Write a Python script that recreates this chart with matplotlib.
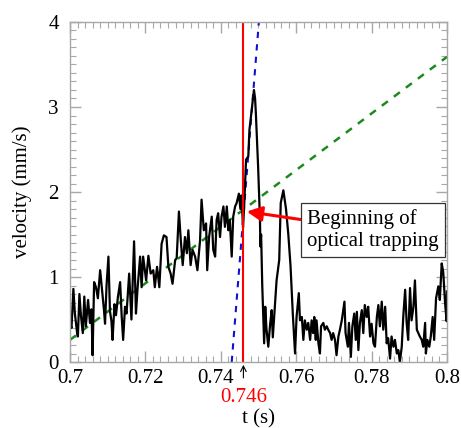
import matplotlib
matplotlib.use('Agg')
import matplotlib.pyplot as plt
from matplotlib.ticker import MultipleLocator
from matplotlib.transforms import ScaledTranslation

plt.rcParams['font.family'] = ['Liberation Serif', 'DejaVu Serif']

# measured velocity trace
t = [0.7000, 0.7004, 0.7009, 0.7013, 0.7019, 0.7021, 0.7025, 0.7029, 0.7034, 0.7038,
     0.7042, 0.7048, 0.7053, 0.7057, 0.7060, 0.7064, 0.7069, 0.7074, 0.7080, 0.7085,
     0.7090, 0.7093, 0.7097, 0.7102, 0.7106, 0.7110, 0.7113, 0.7118, 0.7122, 0.7127,
     0.7133, 0.7137, 0.7141, 0.7146, 0.7150, 0.7157, 0.7163, 0.7170, 0.7175, 0.7179,
     0.7186, 0.7190, 0.7194, 0.7202, 0.7208, 0.7214, 0.7221, 0.7225, 0.7231, 0.7237,
     0.7243, 0.7249, 0.7256, 0.7261, 0.7267, 0.7272, 0.7279, 0.7283, 0.7289, 0.7294,
     0.7299, 0.7305, 0.7310, 0.7314, 0.7320, 0.7325, 0.7332, 0.7338, 0.7345, 0.7349,
     0.7355, 0.7361, 0.7364, 0.7369, 0.7376, 0.7380, 0.7385, 0.7389, 0.7393, 0.7398,
     0.7402, 0.7407, 0.7411, 0.7416, 0.7420, 0.7424, 0.7429, 0.7433, 0.7438, 0.7442,
     0.7448, 0.7452, 0.7455, 0.7459, 0.7462, 0.7467, 0.7473, 0.7476, 0.7482, 0.7488,
     0.7491, 0.7493, 0.7499, 0.7502, 0.7504, 0.7505, 0.7507, 0.7510, 0.7515, 0.7518,
     0.7521, 0.7526, 0.7531, 0.7535, 0.7538, 0.7545, 0.7548, 0.7555, 0.7559, 0.7566,
     0.7573, 0.7579, 0.7585, 0.7591, 0.7597, 0.7601, 0.7607, 0.7610, 0.7615, 0.7619,
     0.7623, 0.7628, 0.7632, 0.7637, 0.7641, 0.7645, 0.7648, 0.7652, 0.7654, 0.7659,
     0.7663, 0.7666, 0.7672, 0.7676, 0.7681, 0.7685, 0.7690, 0.7694, 0.7698, 0.7703,
     0.7707, 0.7712, 0.7716, 0.7721, 0.7728, 0.7731, 0.7737, 0.7740, 0.7745, 0.7749,
     0.7754, 0.7758, 0.7761, 0.7765, 0.7769, 0.7774, 0.7778, 0.7782, 0.7787, 0.7791,
     0.7796, 0.7800, 0.7805, 0.7809, 0.7814, 0.7818, 0.7822, 0.7827, 0.7831, 0.7836,
     0.7840, 0.7844, 0.7849, 0.7853, 0.7858, 0.7862, 0.7867, 0.7871, 0.7875, 0.7880,
     0.7884, 0.7889, 0.7893, 0.7897, 0.7902, 0.7906, 0.7911, 0.7915, 0.7920, 0.7924,
     0.7928, 0.7933, 0.7937, 0.7942, 0.7944, 0.7948, 0.7953, 0.7957, 0.7962, 0.7966,
     0.7971, 0.7977, 0.7981, 0.7986, 0.7990, 0.7995, 0.7999, 0.8000]
v = [0.46, 0.40, 0.86, 0.57, 0.34, 0.30, 0.80, 0.55, 0.34, 0.77,
     0.42, 0.73, 0.46, 0.62, 0.08, 0.94, 0.88, 0.75, 1.08, 0.85,
     0.62, 0.45, 0.90, 1.24, 0.60, 0.48, 0.26, 0.68, 0.55, 0.76,
     0.94, 0.55, 0.26, 0.65, 0.57, 1.04, 0.50, 1.42, 0.57, 0.85,
     1.24, 0.88, 1.24, 0.96, 1.25, 1.04, 1.08, 0.88, 1.12, 0.88,
     1.39, 1.49, 1.47, 1.12, 1.04, 0.92, 1.20, 1.22, 1.77, 1.43,
     1.14, 1.47, 1.28, 1.55, 1.14, 1.32, 1.24, 1.08, 1.43, 1.91,
     1.55, 1.63, 1.08, 1.47, 1.71, 1.32, 1.24, 1.67, 1.75, 1.47,
     1.71, 1.83, 1.59, 1.83, 1.55, 1.67, 1.24, 1.71, 1.83, 1.87,
     1.98, 1.80, 1.96, 1.58, 1.83, 2.38, 2.42, 2.73, 2.96, 3.20,
     3.10, 2.93, 2.30, 1.90, 1.67, 1.36, 1.50, 0.90, 0.22, 0.65,
     0.40, 0.18, 0.45, 0.61, 0.29, 0.77, 0.96, 1.20, 1.87, 2.02,
     1.80, 1.51, 1.13, 0.57, 0.10, 0.53, 0.81, 0.49, 0.53, 0.26,
     0.49, 0.38, 0.46, 0.26, 0.49, 0.34, 0.53, 0.26, 0.49, 0.22,
     0.10, 0.42, 0.46, 0.38, 0.42, 0.38, 0.34, 0.26, 0.34, 0.26,
     0.08, 0.30, 0.38, 0.49, 0.71, 0.34, 0.18, 0.46, 0.06, 0.42,
     0.57, 0.26, 0.59, 0.14, 0.46, 0.61, 0.34, 0.67, 0.53, 0.65,
     0.30, 0.45, 0.22, 0.18, 0.53, 0.67, 0.42, 0.71, 0.38, 0.65,
     0.22, 0.28, 0.04, 0.30, 0.18, 0.26, 0.10, 0.14, 0.00, 0.18,
     0.53, 0.85, 0.46, 0.26, 0.87, 0.49, 0.65, 0.96, 0.38, 0.34,
     0.30, 0.26, 0.18, 0.46, 0.10, 0.26, 0.18, 0.30, 0.53, 0.26,
     0.75, 0.89, 0.73, 1.16, 1.06, 0.69, 0.48, 0.83]

# linear fits
slow_fit_t = [0.70, 0.80]
slow_fit_v = [0.26, 3.59]
fast_fit_t = [0.7429, 0.7501]
fast_fit_v = [0.0, 4.0]

x_ticks = [0.70, 0.72, 0.74, 0.76, 0.78, 0.80]
x_tick_labels = ['0.7', '0.72', '0.74', '0.76', '0.78', '0.8']
y_ticks = [0, 1, 2, 3, 4]

t_trap = 0.746
arrow_tip = (0.7469, 1.77)

fig = plt.figure(figsize=(4.61, 4.28), dpi=100)
ax = fig.add_axes([0.1518, 0.1542, 0.8178, 0.7944])

ax.plot(slow_fit_t, slow_fit_v, color='#1e8a1e', lw=1.8, ls=(0, (3, 3)))
ax.plot(fast_fit_t, fast_fit_v, color='#1010d0', lw=1.5, ls=(0, (3, 3)))
ax.plot(t, v, color='black', lw=1.6)
ax.axvline(t_trap, color='red', lw=1.5)

ax.set_xlim(0.7, 0.8)
ax.set_ylim(0, 4)
ax.set_xticks(x_ticks)
ax.set_xticklabels(x_tick_labels)
ax.xaxis.set_minor_locator(MultipleLocator(0.002))
ax.set_yticks(y_ticks)
ax.set_yticklabels([str(y) for y in y_ticks])
ax.yaxis.set_minor_locator(MultipleLocator(0.1))

for s in ax.spines.values():
    s.set_color('#a8a8a8')
    s.set_linewidth(1.0)
ax.tick_params(which='both', direction='in', top=True, right=True,
               color='#a8a8a8', labelsize=15)
ax.tick_params(which='major', length=8, width=1.0, pad=5)
ax.tick_params(which='minor', length=4, width=0.8)
ax.tick_params(axis='y', pad=8)

# nudge 0.74 away from the marker arrow
lab = ax.get_xticklabels()[2]
lab.set_transform(lab.get_transform() + ScaledTranslation(-5 / 100, 0, fig.dpi_scale_trans))

ax.set_xlabel('t (s)', fontsize=15)
ax.xaxis.set_label_coords(0.5, -0.14)
ax.set_ylabel('velocity (mm/s)', fontsize=15, labelpad=12)

ax.text(t_trap, -0.42, '0.746', color='red', fontsize=15, ha='center', va='center',
        clip_on=False)
ax.annotate('', xy=(t_trap, 0), xytext=(t_trap, -0.22),
            arrowprops=dict(arrowstyle='->', color='black', lw=0.8), annotation_clip=False)

ax.annotate('Beginning of\noptical trapping', xy=arrow_tip, xytext=(0.7804, 1.55),
            fontsize=15, ha='center', va='center', multialignment='left',
            bbox=dict(boxstyle='square,pad=0.3', fc='white', ec='#333333', lw=0.9),
            arrowprops=dict(arrowstyle='-|>,head_length=0.6,head_width=0.3',
                            color='red', lw=2.2, shrinkA=0, shrinkB=0))

fig.savefig('out.png', dpi=100)
